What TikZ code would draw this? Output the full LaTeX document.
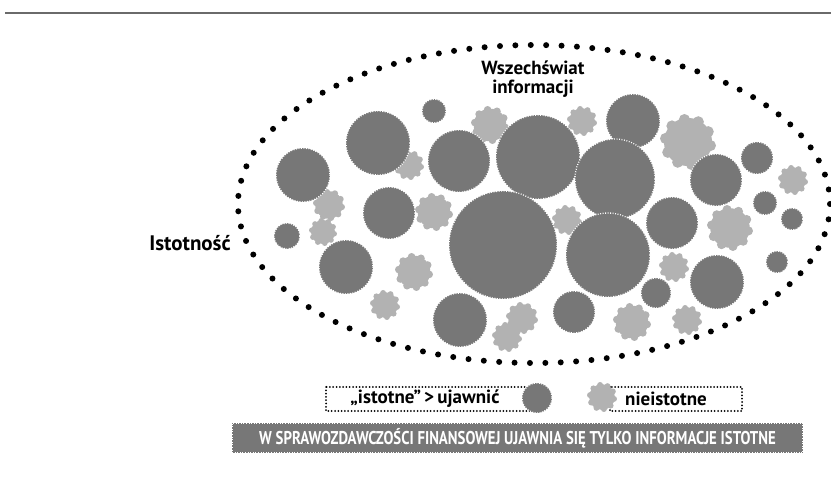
\documentclass[tikz,border=0pt]{standalone}
\usepackage{fontspec}
\setmainfont{PT Sans}
\newfontfamily\narrowfont[FakeStretch=0.80]{PT Sans}
\usetikzlibrary{calc}
\definecolor{discgray}{HTML}{777777}
\definecolor{coggray}{HTML}{B2B2B2}
\definecolor{rulegray}{HTML}{6A6A6A}
\tikzset{
  discfill/.style={fill=discgray},
  discedge/.style={draw=white, line width=1.3pt, dash pattern=on 0.9pt off 1.6pt},
  cogfill/.style={fill=coggray},
  universe/.style={draw=black, line width=6pt, line cap=round, dash pattern=on 0pt off 15.4pt},
  legendbox/.style={draw=black, line width=2pt, line cap=round, dash pattern=on 0pt off 3.3pt},
  label/.style={inner sep=0pt, font=\bfseries\fontsize{19}{21}\selectfont},
  banner/.style={fill=discgray, draw=white, line width=1.3pt, dash pattern=on 1pt off 1.6pt,
    minimum width=571pt, minimum height=30pt, inner sep=0pt, text=white,
    font=\narrowfont\bfseries\fontsize{18.5}{20}\selectfont},
  toprule/.style={draw=rulegray, line width=2pt}
}
% a dark disc with a fine white dotted rim
\newcommand\discat[3]{%
  \fill[discfill] (#1,#2) circle (#3);
  \draw[discedge] (#1,#2) circle (#3);}
% a light cog with shallow rounded teeth
\newcommand\cogat[3]{%
  \fill[cogfill] (#1,#2) circle ({0.86*#3});
  \foreach \k in {0,...,9}{%
    \fill[cogfill] ($(#1,#2)+(\k*36+9:{0.81*#3})$) circle ({0.20*#3});}}
\begin{document}
\begin{tikzpicture}[x=1pt, y=-1pt]
\useasboundingbox (0,0) rectangle (831,489);

% rule across the top
\coordinate (ruleL) at (5,13);
\coordinate (ruleR) at (831,13);
\draw[toprule] (ruleL) -- (ruleR);

% the universe of information
\node[coordinate] (centre) at (534,204) {};
\draw[universe] (centre) ellipse [x radius=296, y radius=159];

% immaterial items
\foreach \x/\y/\r in {490/125/19, 409/165/15, 582/121/15, 688/142/28, 329/205/16,
  323/232/14, 434/212/19, 414/272/19, 385/305/15, 567/220/15, 507/337/15,
  522/318/16, 632/322/19, 687/320/15, 674/267/15, 730/228/23, 793/180/15}
  {\cogat{\x}{\y}{\r}}

% material items
\foreach \x/\y/\r in {303/175/27, 287/236/13, 378/143/32, 434/111/12, 459/161/31,
  389/213/26, 538/157/42, 633/121/27, 615/179/40, 503/245/54, 608/255/42,
  346/267/27, 460/320/27, 574/312/21, 656/293/15, 672/223/26, 716/180/26,
  757/158/16, 765/203/12, 792/219/11, 777/262/11, 717/282/27}
  {\discat{\x}{\y}{\r}}

\node[align=center, inner sep=0pt, font=\bfseries\fontsize{19}{19}\selectfont]
  (title) at (533,79) {Wszechświat\\informacji};

\node[inner sep=0pt, font=\bfseries\fontsize{21}{24}\selectfont]
  (topic) at (190,243) {Istotność};

% legend
\draw[legendbox] (326,387) rectangle (530,411);
\draw[legendbox] (610,387) rectangle (742,411);
\discat{537}{398}{15}
\cogat{602}{397}{15}
\node[label] (material) at (425,399) {„istotne”\,>\,ujawnić};
\node[label] (immaterial) at (666,399) {nieistotne};

% closing statement
\node[banner] (statement) at (517.5,438) {W SPRAWOZDAWCZOŚCI FINANSOWEJ UJAWNIA SIĘ TYLKO INFORMACJE ISTOTNE};
\end{tikzpicture}
\end{document}
